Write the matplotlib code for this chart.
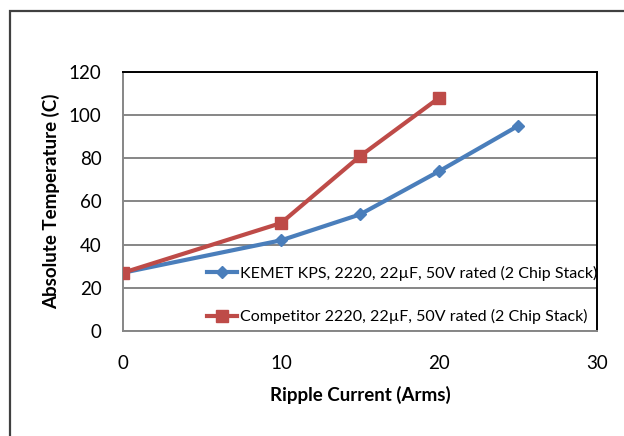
import matplotlib
matplotlib.use("Agg")
import matplotlib.pyplot as plt
from matplotlib.patches import Rectangle

x_kemet = [0, 10, 15, 20, 25]
y_kemet = [27, 42, 54, 74, 95]
x_comp = [0, 10, 15, 20]
y_comp = [27, 50, 81, 108]
label_kemet = "KEMET KPS, 2220, 22µF, 50V rated (2 Chip Stack)"
label_comp = "Competitor 2220, 22µF, 50V rated (2 Chip Stack)"
xticks = [0, 10, 20, 30]
yticks = [0, 20, 40, 60, 80, 100, 120]

plt.rcParams['font.family'] = ['Lato', 'DejaVu Sans']

fig = plt.figure(figsize=(6.24, 4.36), dpi=100)
ax = fig.add_axes([123/624, 1-331/436, (597-123)/624, (331-72)/436])

# outer chart frame
fig.patches.append(Rectangle((10/624, -0.1), 1.2, 1 - 11/436 + 0.1, transform=fig.transFigure,
                             fill=False, edgecolor='#404040', linewidth=1.6))

ax.plot(x_kemet, y_kemet, color='#4A7EBB', linewidth=3, marker='D', markersize=6,
        label=label_kemet, zorder=3)
ax.plot(x_comp, y_comp, color='#BE4B48', linewidth=3, marker='s', markersize=8,
        label=label_comp, zorder=4)

ax.set_xlim(0, 30)
ax.set_ylim(0, 120)
ax.set_xticks(xticks)
ax.set_yticks(yticks)
ax.grid(axis='y', color='#868686', linewidth=1.4)
ax.set_axisbelow(True)
ax.tick_params(length=0, labelsize=13.5)
ax.tick_params(axis='y', pad=15.5)
ax.tick_params(axis='x', pad=17.5)
for s in ['left', 'bottom']:
    ax.spines[s].set_color('#868686')
    ax.spines[s].set_linewidth(1.4)
for s in ['top', 'right']:
    ax.spines[s].set_color('black')
    ax.spines[s].set_linewidth(1.4)

ax.set_xlabel("Ripple Current (Arms)", fontsize=13.5, fontweight='bold', labelpad=10)
ax.set_ylabel("Absolute Temperature (C)", fontsize=13.5, fontweight='bold', labelpad=6)

leg = ax.legend(loc='center right', bbox_to_anchor=(1.0, (331-295)/259), frameon=False,
                fontsize=11.5, handlelength=1.9, handletextpad=0.15, labelspacing=1.8,
                borderaxespad=0, borderpad=0)

fig.savefig("out.png", dpi=100)
